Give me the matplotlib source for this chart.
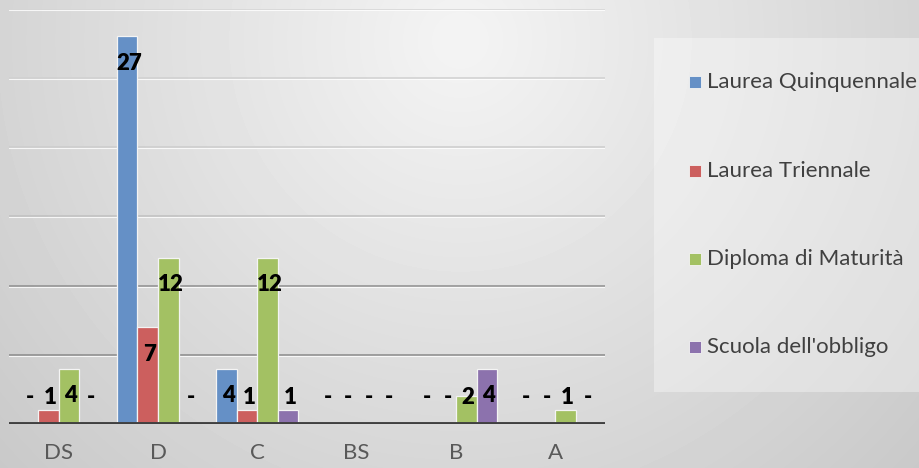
import numpy as np
import matplotlib
matplotlib.use("Agg")
import matplotlib.pyplot as plt
from matplotlib.patches import Rectangle

categories = ["DS", "D", "C", "BS", "B", "A"]
series_names = ["Laurea Quinquennale", "Laurea Triennale",
                "Diploma di Maturità", "Scuola dell'obbligo"]

# bar heights (the D blue bar reaches ~28 though labelled 27)
laurea_quinquennale = [0, 28, 4, 0, 0, 0]
laurea_triennale = [1, 7, 1, 0, 0, 0]
diploma_maturita = [4, 12, 12, 0, 2, 1]
scuola_obbligo = [0, 0, 1, 0, 4, 0]

# data labels as printed on the chart
labels_quinquennale = ["-", "27", "4", "-", "-", "-"]
labels_triennale = ["1", "7", "1", "-", "-", "-"]
labels_diploma = ["4", "12", "12", "-", "2", "1"]
labels_scuola = ["-", "-", "1", "-", "4", "-"]

values = [laurea_quinquennale, laurea_triennale, diploma_maturita, scuola_obbligo]
labels = [labels_quinquennale, labels_triennale, labels_diploma, labels_scuola]
colors = ["#6590c6", "#cc5f5e", "#a3c163", "#8c72ad"]

plt.rcParams["font.family"] = ["Lato", "DejaVu Sans"]

W, H = 920, 468
fig = plt.figure(figsize=(W / 100, H / 100), dpi=100)

# gradient background
bg_ax = fig.add_axes([0, 0, 1, 1], zorder=-10)
yy, xx = np.mgrid[0:H, 0:W]
d = np.hypot(xx - 460, yy - 40) / 640
bg = np.clip(244 - 44 * d, 0, 255)
bg_ax.imshow(bg, cmap="gray", vmin=0, vmax=255, aspect="auto",
             extent=[0, W, H, 0], interpolation="bilinear")
bg_ax.set_xlim(0, W)
bg_ax.set_ylim(H, 0)
bg_ax.axis("off")

# legend panel
bg_ax.add_patch(Rectangle((654, 38), W - 654, 354, facecolor="white",
                          alpha=0.35, edgecolor="none"))

ax = fig.add_axes([9 / W, 1 - 424 / H, 596 / W, (424 - 8.5) / H])
ax.set_facecolor("none")
for s in ax.spines.values():
    s.set_visible(False)
ax.set_xlim(-0.5, len(categories) - 0.5)
ax.set_ylim(0, 30)
ax.set_yticks([])

# gridlines (gray line with a white highlight below)
grid_levels = [5, 10, 15, 20, 25, 30]
grid_colors = ["#8a8a8a", "#8e8e8e", "#c0c0c0", "#cccccc", "#d0d0d0", "#d4d4d4"]
for g, c in zip(grid_levels, grid_colors):
    ax.axhline(g, color=c, lw=1.1, zorder=1)
    ax.axhline(g - 0.08, color="white", lw=0.8, alpha=0.8, zorder=1)

x = np.arange(len(categories))
bw = 0.207
for i, (vals, labs, col) in enumerate(zip(values, labels, colors)):
    xs = x + (i - 1.5) * bw
    ax.bar(xs, vals, width=bw, color=col, edgecolor="#f4f4f4",
           linewidth=0.9, zorder=2)
    for xi, v, lab in zip(xs, vals, labs):
        y = max(v - 1.95, 1.88)
        ax.text(xi + 0.02, y, lab, ha="center", va="center", fontsize=16,
                fontweight="heavy", color="black", zorder=4)

ax.axhline(0, color="#404040", lw=2.8, zorder=3)

ax.set_xticks(x)
ax.set_xticklabels(categories, fontsize=16, color="#595959")
ax.tick_params(axis="x", length=0, pad=14)

# legend
rows = [82, 171, 259, 347]
for name, col, ry in zip(series_names, colors, rows):
    bg_ax.add_patch(Rectangle((689, ry - 6), 12, 12, facecolor=col,
                              edgecolor="#f4f4f4", linewidth=0.6))
    bg_ax.text(707, ry, name, ha="left", va="center", fontsize=16,
               color="#404040")

fig.savefig("out.png", dpi=100)
